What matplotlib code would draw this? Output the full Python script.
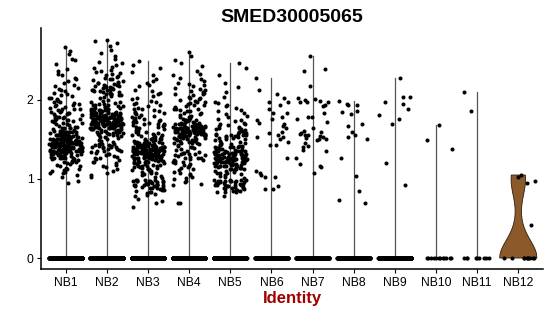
import matplotlib
matplotlib.use("Agg")
import matplotlib.pyplot as plt
import numpy as np

plt.rcParams['font.family'] = ['Liberation Sans', 'DejaVu Sans']

gene = "SMED30005065"
identities = ["NB1", "NB2", "NB3", "NB4", "NB5", "NB6",
              "NB7", "NB8", "NB9", "NB10", "NB11", "NB12"]

# cells with zero expression per identity
n_zero = [800, 900, 950, 700, 700, 300, 300, 250, 200, 12, 9, 10]

# non-zero expression values per identity (read off the jittered points)
nb1_expr = [
    1.45, 1.52, 1.38, 1.61, 1.29, 1.47, 1.55, 1.33, 1.42, 1.68, 1.24, 1.49, 1.57, 1.36, 1.44, 1.51, 1.19, 1.63, 1.40, 1.46,
    1.34, 1.58, 1.27, 1.50, 1.43, 1.66, 1.31, 1.48, 1.39, 1.54, 1.22, 1.45, 1.60, 1.37, 1.41, 1.53, 1.28, 1.47, 1.65, 1.35,
    1.44, 1.56, 1.30, 1.49, 1.18, 1.62, 1.43, 1.38, 1.51, 1.26, 1.46, 1.59, 1.33, 1.42, 1.55, 1.21, 1.48, 1.40, 1.64, 1.36,
    1.52, 1.29, 1.45, 1.57, 1.39, 1.47, 1.32, 1.69, 1.44, 1.25, 1.50, 1.41, 1.58, 1.35, 1.46, 1.53, 1.23, 1.43, 1.61, 1.37,
    1.49, 1.31, 1.54, 1.40, 1.67, 1.27, 1.45, 1.56, 1.34, 1.48, 1.20, 1.42, 1.59, 1.38, 1.51, 1.30, 1.46, 1.63, 1.36, 1.44,
    1.55, 1.24, 1.47, 1.39, 1.52, 1.33, 1.60, 1.41, 1.48, 1.16, 1.45, 1.57, 1.35, 1.50, 1.28, 1.43, 1.66, 1.37, 1.46, 1.54,
    1.32, 1.49, 1.40, 1.62, 1.26, 1.44, 1.53, 1.38, 1.47, 1.58, 1.22, 1.42, 1.51, 1.34, 1.45, 1.69, 1.30, 1.48, 1.39, 1.56,
    1.36, 1.43, 1.60, 1.27, 1.50, 1.41, 1.47, 1.35, 1.64, 1.44, 1.53, 1.29, 1.46, 1.38, 1.55, 1.17, 1.42, 1.49, 1.33, 1.59,
    1.40, 1.52, 1.31, 1.45, 1.65, 1.37, 1.48, 1.25, 1.43, 1.57,
    1.72, 1.75, 1.78, 1.71, 1.81, 1.74, 1.85, 1.77, 1.90, 1.73, 1.83, 1.95, 1.76, 1.88, 1.79, 2.01, 1.82, 1.93, 1.74, 2.06,
    1.86, 1.71, 1.98, 1.80, 2.12, 1.84, 1.91, 1.77, 2.03, 1.89, 2.17, 1.73, 1.96, 1.87, 2.09, 1.79, 2.21, 1.94, 1.82, 2.00,
    2.26, 1.76, 2.14, 1.92, 2.31, 1.85, 2.05, 2.36, 1.97, 2.19, 1.88, 2.28, 2.02, 2.33, 2.11, 2.24, 1.99, 2.39, 2.07, 2.15,
    2.45, 2.52, 2.58, 2.50, 2.62, 2.67,
    0.95, 0.97, 1.02, 1.08, 1.12, 1.05, 1.10, 1.14, 1.07, 1.13, 1.11, 1.09,
]
nb2_expr = [
    1.72, 1.65, 1.80, 1.58, 1.75, 1.91, 1.68, 1.77, 1.62, 1.84, 1.70, 1.53, 1.79, 1.66, 1.88, 1.73, 1.60, 1.82, 1.69, 1.96,
    1.74, 1.57, 1.85, 1.71, 1.64, 1.78, 1.93, 1.67, 1.81, 1.49, 1.76, 1.70, 1.87, 1.63, 1.73, 1.99, 1.59, 1.80, 1.68, 1.75,
    1.83, 1.61, 1.72, 1.90, 1.66, 1.78, 1.55, 1.74, 1.86, 1.69, 1.77, 1.64, 1.94, 1.71, 1.81, 1.58, 1.76, 1.67, 1.89, 1.73,
    1.62, 1.79, 1.70, 2.02, 1.65, 1.84, 1.75, 1.52, 1.78, 1.69, 1.92, 1.74, 1.60, 1.82, 1.71, 1.87, 1.66, 1.77, 1.47, 1.80,
    1.73, 1.63, 1.95, 1.68, 1.76, 1.85, 1.57, 1.72, 1.81, 1.67, 1.79, 2.04, 1.64, 1.75, 1.88, 1.70, 1.56, 1.83, 1.74, 1.61,
    1.78, 1.91, 1.69, 1.76, 1.54, 1.84, 1.72, 1.65, 1.80, 1.97, 1.71, 1.59, 1.77, 1.86, 1.68, 1.74, 1.63, 1.82, 1.50, 1.79,
    1.70, 1.89, 1.66, 1.75, 1.93, 1.62, 1.81, 1.73, 1.58, 1.78, 1.67, 1.85, 1.71, 2.00, 1.64, 1.76, 1.83, 1.55, 1.72, 1.80,
    1.69, 1.90, 1.77, 1.61, 1.74, 1.87, 1.66, 1.79, 1.48, 1.73, 1.84, 1.68, 1.98, 1.75, 1.60, 1.82, 1.70, 1.92, 1.65, 1.78,
    1.76, 1.63, 1.86, 1.71, 1.53, 1.81, 1.74, 1.95, 1.67, 1.79,
    2.06, 2.09, 2.12, 2.08, 2.15, 2.07, 2.18, 2.11, 2.22, 2.05, 2.14, 2.26, 2.10, 2.19, 2.30, 2.13, 2.06, 2.24, 2.16, 2.35,
    2.08, 2.20, 2.28, 2.11, 2.40, 2.17, 2.07, 2.33, 2.23, 2.13, 2.44, 2.09, 2.27, 2.19, 2.38, 2.15, 2.48, 2.21, 2.10, 2.31,
    2.25, 2.12, 2.36, 2.18, 2.42, 2.29, 2.16, 2.47, 2.34, 2.22,
    2.52, 2.56, 2.60, 2.63, 2.68, 2.72, 2.74, 2.76,
    1.44, 1.41, 1.38, 1.43, 1.35, 1.42, 1.30, 1.39, 1.44, 1.33, 1.27, 1.40, 1.36, 1.22, 1.42, 1.31, 1.18, 1.38, 1.25, 1.43,
    1.15, 1.34, 1.20, 1.40, 1.12, 1.29, 1.37, 1.08, 1.24, 1.41, 1.05, 1.32, 1.17, 1.03, 1.26, 1.44, 1.10, 1.36, 1.21, 1.28,
]
nb3_expr = [
    1.35, 1.28, 1.42, 1.19, 1.37, 1.51, 1.24, 1.33, 1.46, 1.12, 1.39, 1.30, 1.57, 1.22, 1.36, 1.44, 1.07, 1.32, 1.48, 1.26,
    1.40, 1.15, 1.34, 1.53, 1.29, 1.38, 1.21, 1.45, 1.03, 1.36, 1.31, 1.60, 1.25, 1.41, 1.17, 1.33, 1.49, 1.27, 1.37, 1.10,
    1.43, 1.23, 1.35, 1.55, 1.30, 1.39, 1.14, 1.47, 1.28, 1.34, 1.62, 1.20, 1.38, 1.32, 1.05, 1.41, 1.26, 1.50, 1.36, 1.18,
    1.44, 1.29, 1.37, 1.58, 1.24, 1.33, 1.46, 1.11, 1.40, 1.31, 1.35, 1.52, 1.22, 1.39, 1.27, 1.64, 1.34, 1.16, 1.42, 1.30,
    1.37, 1.48, 1.25, 1.36, 1.09, 1.43, 1.32, 1.56, 1.28, 1.38, 1.21, 1.45, 1.35, 1.13, 1.41, 1.29, 1.54, 1.33, 1.19, 1.39,
    1.26, 1.47, 1.36, 1.01, 1.40, 1.31, 1.59, 1.23, 1.37, 1.44, 1.15, 1.34, 1.50, 1.27, 1.38, 1.08, 1.42, 1.30, 1.61, 1.35,
    1.20, 1.46, 1.32, 1.39, 1.12, 1.43, 1.28, 1.53, 1.36, 1.24, 1.41, 1.17, 1.33, 1.49, 1.29, 1.37, 1.06, 1.45, 1.34, 1.57,
    1.22, 1.40, 1.31, 1.48, 1.26, 1.38, 1.14, 1.44, 1.35, 1.63, 1.27, 1.39, 1.10, 1.42, 1.30, 1.51, 1.25, 1.36, 1.18, 1.47,
    1.33, 1.41, 1.04, 1.37, 1.29, 1.55, 1.23, 1.43, 1.32, 1.16,
    1.66, 1.70, 1.68, 1.74, 1.67, 1.79, 1.72, 1.83, 1.69, 1.76, 1.88, 1.71, 1.81, 1.93, 1.73, 1.85, 1.66, 1.97, 1.78, 1.90,
    1.75, 2.01, 1.82, 1.69, 1.95, 2.05, 1.77, 1.87, 2.09, 1.80, 1.72, 1.99, 2.13, 1.84, 1.92, 2.17, 1.68, 2.03, 1.89, 2.07,
    1.74, 1.96, 2.11, 1.86, 2.19,
    2.22, 2.26, 2.31, 2.24, 2.35, 2.40, 2.44, 2.49,
    0.99, 0.96, 0.98, 0.93, 0.97, 0.91, 0.99, 0.88, 0.95, 0.92, 0.98, 0.86, 0.94, 0.90, 0.97, 0.84, 0.93, 0.99, 0.82, 0.96,
    0.89, 0.95, 0.80, 0.92, 0.98, 0.87, 0.94, 0.78, 0.91, 0.97, 0.85, 0.75, 0.93, 0.88, 0.99, 0.72, 0.90, 0.83, 0.96, 0.69,
    0.94, 0.86, 0.65, 0.92, 0.81,
]
nb4_expr = [
    1.60, 1.54, 1.67, 1.48, 1.62, 1.73, 1.57, 1.64, 1.51, 1.69, 1.59, 1.43, 1.66, 1.55, 1.78, 1.61, 1.46, 1.70, 1.58, 1.63,
    1.52, 1.75, 1.60, 1.65, 1.40, 1.68, 1.56, 1.62, 1.81, 1.53, 1.64, 1.49, 1.71, 1.59, 1.57, 1.66, 1.37, 1.61, 1.74, 1.55,
    1.63, 1.50, 1.67, 1.58, 1.84, 1.60, 1.45, 1.69, 1.56, 1.62, 1.72, 1.53, 1.65, 1.59, 1.47, 1.76, 1.61, 1.54, 1.68, 1.42,
    1.64, 1.57, 1.79, 1.60, 1.51, 1.66, 1.63, 1.39, 1.70, 1.58, 1.55, 1.73, 1.62, 1.48, 1.67, 1.59, 1.82, 1.56, 1.64, 1.52,
    1.61, 1.69, 1.44, 1.65, 1.58, 1.77, 1.54, 1.63, 1.60, 1.50, 1.71, 1.57, 1.66, 1.36, 1.62, 1.74, 1.55, 1.68, 1.59, 1.46,
    1.64, 1.53, 1.80, 1.61, 1.57, 1.67, 1.41, 1.63, 1.72, 1.56, 1.60, 1.49, 1.65, 1.58, 1.83, 1.54, 1.62, 1.69, 1.52, 1.66,
    1.59, 1.75, 1.45, 1.61, 1.64, 1.57, 1.70, 1.38, 1.63, 1.60,
    1.86, 1.89, 1.92, 1.87, 1.95, 1.88, 1.98, 1.91, 2.02, 1.86, 1.94, 2.06, 1.90, 2.00, 2.11, 1.93, 2.04, 2.15, 1.97, 2.09,
    1.88, 2.19, 2.01, 2.13, 2.24, 1.96, 2.07, 2.28, 2.17, 1.99, 2.33, 2.10, 2.22, 2.03, 2.37, 2.14, 2.26, 2.08, 2.31, 2.20,
    2.43, 2.47, 2.50, 2.55, 2.61,
    1.33, 1.30, 1.27, 1.32, 1.24, 1.29, 1.21, 1.34, 1.18, 1.26, 1.31, 1.15, 1.23, 1.33, 1.12, 1.28, 1.20, 1.09, 1.25, 1.32,
    1.06, 1.17, 1.30, 1.03, 1.22, 1.14, 1.00, 1.27, 0.98, 1.11, 1.19, 0.96, 1.08, 0.94, 1.24, 1.01, 0.92, 0.69, 0.70, 1.05,
]
nb5_expr = [
    1.25, 1.19, 1.32, 1.14, 1.28, 1.38, 1.22, 1.30, 1.09, 1.35, 1.24, 1.17, 1.41, 1.27, 1.12, 1.33, 1.21, 1.45, 1.26, 1.16,
    1.31, 1.05, 1.29, 1.37, 1.20, 1.23, 1.43, 1.13, 1.34, 1.27, 1.18, 1.40, 1.24, 1.07, 1.30, 1.22, 1.47, 1.26, 1.15, 1.36,
    1.28, 1.11, 1.33, 1.21, 1.39, 1.25, 1.02, 1.31, 1.19, 1.44, 1.27, 1.16, 1.35, 1.23, 1.29, 1.10, 1.38, 1.24, 1.20, 1.42,
    1.32, 1.14, 1.26, 1.49, 1.22, 1.30, 1.08, 1.34, 1.25, 1.18, 1.40, 1.28, 1.12, 1.37, 1.21, 1.31, 1.04, 1.27, 1.46, 1.23,
    1.17, 1.33, 1.26, 1.39, 1.13, 1.29, 1.24, 1.43, 1.20, 1.35, 1.06, 1.28, 1.22, 1.32, 1.15, 1.41, 1.25, 1.19, 1.36, 1.27,
    1.10, 1.30, 1.48, 1.23, 1.34, 1.17, 1.26, 1.38, 1.21, 1.01, 1.31, 1.24, 1.44, 1.18, 1.28, 1.33, 1.12, 1.25, 1.40, 1.22,
    1.29, 1.16, 1.35, 1.27, 1.07, 1.32, 1.20, 1.42, 1.26, 1.24,
    1.51, 1.54, 1.52, 1.57, 1.53, 1.60, 1.55, 1.63, 1.51, 1.58, 1.66, 1.56, 1.70, 1.53, 1.62, 1.74, 1.59, 1.52, 1.67, 1.78,
    1.55, 1.64, 1.82, 1.61, 1.57, 1.71, 1.86, 1.65, 1.54, 1.76, 1.90, 1.60, 1.68, 1.94, 1.73, 1.56, 1.84, 1.98, 1.63, 1.80,
    1.69, 1.92, 1.58, 1.87, 1.96,
    2.04, 2.10, 2.16, 2.22, 2.32, 2.40, 2.47,
    0.99, 0.97, 0.95, 0.98, 0.93, 0.96, 0.91, 0.99, 0.89, 0.94, 0.97, 0.87, 0.92, 0.98, 0.85, 0.95, 0.90, 0.99, 0.86, 0.93,
    0.96, 0.84, 0.91, 0.98, 0.88, 0.94, 0.85, 0.97, 0.90, 0.83, 0.95, 0.87, 0.92, 0.86, 0.99, 0.84, 0.96, 0.89, 0.78, 0.93,
]
nb6_expr = [2.28, 2.13, 2.08, 1.98, 2.03, 1.97, 1.93, 1.89, 1.84, 1.83, 1.78, 1.76, 1.75, 1.71, 1.70,
            1.67, 1.64, 1.60, 1.58, 1.55, 1.53, 1.53, 1.50, 1.47, 1.43, 1.43, 1.27, 1.07, 1.03, 1.03,
            0.91, 0.87, 1.10, 1.05, 0.87]
nb7_expr = [2.56, 2.39, 2.37, 2.18, 2.03, 2.00, 1.97, 1.93, 1.98, 1.97, 1.92, 1.84, 1.79, 1.78, 1.76,
            1.72, 1.65, 1.61, 1.60, 1.58, 1.57, 1.56, 1.55, 1.54, 1.53, 1.52, 1.51, 1.50, 1.49, 1.46,
            1.42, 1.40, 1.37, 1.35, 1.26, 1.19, 1.16, 1.15, 1.08, 2.01, 1.99]
nb8_expr = [1.95, 1.93, 1.99, 1.94, 1.86, 1.85, 1.82, 1.67, 1.70, 1.60, 1.56, 1.51, 1.53, 1.27, 1.04,
            0.85, 0.74, 0.69]
nb9_expr = [2.28, 2.04, 1.98, 2.04, 1.95, 1.88, 1.81, 1.76, 1.70, 1.20, 0.92]
nb10_expr = [1.68, 1.49, 1.38]
nb11_expr = [1.86, 2.10]
nb12_expr = [0.42, 0.95, 0.97, 1.03, 1.05]

expr_by_ident = [nb1_expr, nb2_expr, nb3_expr, nb4_expr, nb5_expr, nb6_expr,
                 nb7_expr, nb8_expr, nb9_expr, nb10_expr, nb11_expr, nb12_expr]

VIOLIN_FILL = "#8c5a2a"
TITLE_RED = "#a00000"


def jitter_frac(n, seed):
    # hash-style scramble in [0, 1), stands in for geom_jitter's spread
    k = np.arange(n) + 1.0 + 97.0 * seed
    return (np.sin(k * 12.9898 + seed * 78.233) * 43758.5453) % 1.0


fig = plt.figure(figsize=(5.5, 3.16), dpi=100)
ax = fig.add_axes([41 / 550, 1 - 269 / 316, 502 / 550, 241 / 316])

for i, (name, expr, nz) in enumerate(zip(identities, expr_by_ident, n_zero)):
    pos = i + 1
    vals = np.concatenate([np.zeros(nz), np.array(expr)])

    # violin: collapses to a line when most cells are zero (IQR == 0)
    q1, q3 = np.percentile(vals, [25, 75])
    if q3 - q1 == 0:
        ax.plot([pos, pos], [vals.min(), vals.max()], color="#555555", lw=0.9, zorder=1)
    else:
        bw = 0.22
        grid = np.linspace(vals.min(), vals.max(), 300)
        dens = np.exp(-0.5 * ((grid[:, None] - vals[None, :]) / bw) ** 2).sum(axis=1)
        half = 0.45 * dens / dens.max()
        ax.fill(np.concatenate([pos - half, (pos + half)[::-1]]),
                np.concatenate([grid, grid[::-1]]),
                facecolor=VIOLIN_FILL, edgecolor="#2b1d10", lw=0.6, zorder=1)

    xs = pos + (jitter_frac(len(vals), i) - 0.5) * 0.8
    ax.scatter(xs, vals, s=8.5, color="black", linewidths=0, zorder=2)

ax.set_xlim(0.4, 12.6)
ax.set_ylim(-0.139, 2.91)
ax.set_xticks(range(1, len(identities) + 1))
ax.set_xticklabels(identities)
ax.set_yticks([0, 1, 2])

for side in ["top", "right"]:
    ax.spines[side].set_visible(False)
for side in ["left", "bottom"]:
    ax.spines[side].set_linewidth(1.1)
    ax.spines[side].set_color("black")
ax.tick_params(axis="both", length=3, width=0.8, color="black",
               labelsize=8.7, labelcolor="black", pad=2.5)

ax.set_title(gene, fontsize=14, fontweight="bold", pad=4.5)
ax.set_xlabel("Identity", fontsize=12, fontweight="bold", color=TITLE_RED, labelpad=2)
ax.set_ylabel("")

fig.savefig("out.png", dpi=100)
